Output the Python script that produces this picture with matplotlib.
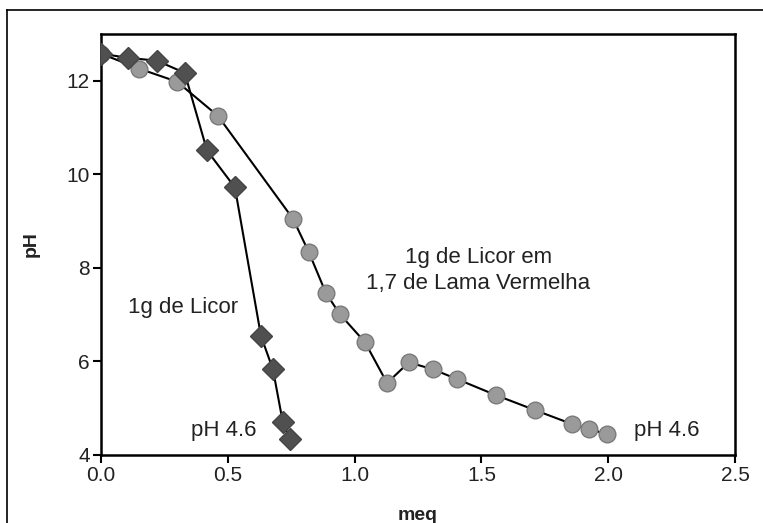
import matplotlib
matplotlib.use("Agg")
import matplotlib.pyplot as plt
from matplotlib.lines import Line2D

plt.rcParams['font.family'] = ['Liberation Sans', 'DejaVu Sans']

licor_x = [0.0, 0.106, 0.22, 0.33, 0.418, 0.528, 0.631, 0.678, 0.717, 0.745]
licor_y = [12.58, 12.49, 12.43, 12.17, 10.51, 9.72, 6.54, 5.83, 4.70, 4.34]

lama_x = [0.0, 0.15, 0.30, 0.461, 0.757, 0.82, 0.887, 0.942, 1.041, 1.128,
          1.214, 1.31, 1.405, 1.557, 1.711, 1.858, 1.925, 1.995]
lama_y = [12.58, 12.26, 11.98, 11.25, 9.05, 8.33, 7.46, 7.01, 6.41, 5.54,
          5.98, 5.83, 5.62, 5.28, 4.96, 4.66, 4.55, 4.45]

xticks = [0.0, 0.5, 1.0, 1.5, 2.0, 2.5]
xticklabels = ['0.0', '0.5', '1.0', '1.5', '2.0', '2.5']
yticks = [4, 6, 8, 10, 12]

fig = plt.figure(figsize=(7.63, 5.23), dpi=100)
W, H = 763, 523
ax = fig.add_axes([101 / W, 1 - 455 / H, (735 - 101) / W, (455 - 34) / H])

ax.plot(lama_x, lama_y, color='black', lw=1.5, zorder=2,
        marker='o', ms=12, markerfacecolor='#9a9a9a', markeredgecolor='#7a7a7a', markeredgewidth=1.0)
ax.plot(licor_x, licor_y, color='black', lw=1.5, zorder=3,
        marker='D', ms=11, markerfacecolor='#505050', markeredgecolor='#454545', markeredgewidth=1.0)

ax.set_xlim(0, 2.5)
ax.set_ylim(4, 13)
ax.set_xticks(xticks)
ax.set_xticklabels(xticklabels)
ax.set_yticks(yticks)
ax.tick_params(axis='both', direction='out', length=6, width=1.5, labelsize=15, pad=2,
               top=False, right=False, colors='black', labelcolor='#222222')
for s in ax.spines.values():
    s.set_linewidth(1.8)

ax.set_xlabel('meq', fontsize=14, fontweight='bold', labelpad=16, color='#222222')
ax.set_ylabel('pH', fontsize=14, fontweight='bold', labelpad=19, color='#222222')

tc = '#222222'
ax.text(1.487, 7.95, '1g de Licor em\n1,7 de Lama Vermelha', ha='center', va='center',
        fontsize=16, linespacing=1.3, color=tc)
ax.text(0.106, 7.16, '1g de Licor', ha='left', va='center', fontsize=16, color=tc)
ax.text(0.355, 4.52, 'pH 4.6', ha='left', va='center', fontsize=16, color=tc)
ax.text(2.10, 4.52, 'pH 4.6', ha='left', va='center', fontsize=16, color=tc)

# outer frame
fig.add_artist(Line2D([7 / W, 7 / W], [0, 1 - 10 / H], transform=fig.transFigure, color='black', lw=1.2))
fig.add_artist(Line2D([7 / W, 1], [1 - 10 / H, 1 - 10 / H], transform=fig.transFigure, color='black', lw=1.2))

fig.savefig('out.png', dpi=100)
